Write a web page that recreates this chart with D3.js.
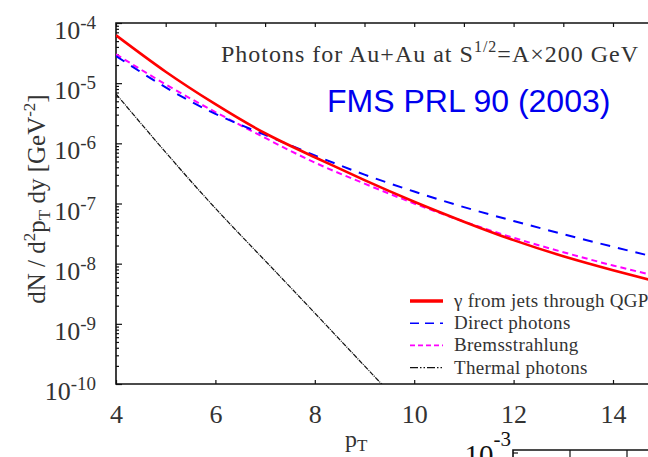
<!DOCTYPE html>
<html>
<head>
<meta charset="utf-8">
<script src="https://cdn.jsdelivr.net/npm/d3@7"></script>
<style>
  body { margin: 0; background: #fff; }
  svg { display: block; }
  text { font-family: "Liberation Serif", "Times New Roman", serif; fill: #333; }
</style>
</head>
<body>
<div id="chart"></div>
<script>
// Values
var pT = [4, 5, 6, 7, 8, 9, 10, 11, 12, 13, 14, 15];
var jetsQGP = [6.25e-5, 1.55e-5, 4.47e-6, 1.47e-6, 5.88e-7, 2.44e-7, 1.07e-7, 4.99e-8, 2.46e-8, 1.33e-8, 7.80e-9, 4.74e-9];
var directPhotons = [2.82e-5, 8.51e-6, 3.09e-6, 1.38e-6, 6.31e-7, 3.02e-7, 1.58e-7, 8.71e-8, 5.13e-8, 3.09e-8, 1.91e-8, 1.20e-8];
var bremsstrahlung = [3.02e-5, 9.55e-6, 3.31e-6, 1.23e-6, 4.79e-7, 2.14e-7, 1.00e-7, 5.01e-8, 2.69e-8, 1.55e-8, 9.33e-9, 5.89e-9];
var thermalPT = [4, 5, 6, 7, 8, 9, 9.6];
var thermalPhotons = [6.61e-6, 7.08e-7, 8.32e-8, 1.12e-8, 1.51e-9, 2.0e-10, 6.0e-11];

var decades = [-4, -5, -6, -7, -8, -9, -10];
var xTicksBottom = [4, 6, 8, 10, 12, 14];
var xTicksTop = [4, 5, 6, 7, 8, 9, 10, 11, 12, 13, 14, 15];
var legendLabels = ["\u03b3 from jets through QGP", "Direct photons", "Bremsstrahlung", "Thermal photons"];

var W = 648, H = 457;
var plot = { left: 116, top: 23, bottom: 384, right: 648 };

var svg = d3.select("#chart")
    .append("svg")
    .attr("width", W)
    .attr("height", H);

var x = d3.scaleLinear()
    .domain([4, 15])
    .range([plot.left, plot.left + 11 * 49.7]);

var y = d3.scaleLog()
    .domain([1e-10, 1e-4])
    .range([plot.bottom, plot.top]);

// text with super/subscripts: parts = [text, dy, size]
function richText(sel, parts) {
    var shift = 0;
    parts.forEach(function (p) {
        var t = sel.append("tspan").text(p[0]);
        var dy = p[1] - shift;
        if (dy !== 0) t.attr("dy", dy);
        if (p[2]) t.style("font-size", p[2] + "px");
        shift = p[1];
    });
}

svg.append("defs")
    .append("clipPath")
    .attr("id", "plot-clip")
    .append("rect")
    .attr("x", plot.left)
    .attr("y", plot.top)
    .attr("width", plot.right - plot.left)
    .attr("height", plot.bottom - plot.top);

// Ticks (inward)
svg.append("g")
    .attr("transform", "translate(" + plot.left + ",0)")
    .call(d3.axisLeft(y)
        .tickValues(decades.map(function (d) { return Math.pow(10, d); }))
        .tickSize(-6).tickSizeOuter(0).tickFormat(""))
    .call(function (g) { g.select(".domain").remove(); });

var minor = [];
decades.slice(0, -1).forEach(function (d) {
    for (var k = 2; k <= 9; k++) minor.push(k * Math.pow(10, d - 1));
});
svg.append("g")
    .attr("transform", "translate(" + plot.left + ",0)")
    .call(d3.axisLeft(y).tickValues(minor).tickSize(-3).tickSizeOuter(0).tickFormat(""))
    .call(function (g) { g.select(".domain").remove(); });

svg.append("g")
    .attr("transform", "translate(0," + plot.top + ")")
    .call(d3.axisTop(x).tickValues(xTicksTop).tickSize(-4).tickSizeOuter(0).tickFormat(""))
    .call(function (g) { g.select(".domain").remove(); });

svg.append("g")
    .attr("class", "x-axis")
    .attr("transform", "translate(0," + plot.bottom + ")")
    .call(d3.axisBottom(x).tickValues(xTicksBottom).tickSize(-4).tickSizeOuter(0).tickPadding(21))
    .call(function (g) {
        g.select(".domain").remove();
        g.selectAll("text")
            .style("font-family", "\"Liberation Serif\", serif")
            .style("font-size", "26px")
            .style("fill", "#333");
    });

svg.selectAll(".tick line").attr("stroke", "#111").attr("stroke-width", 1.2);

// Frame
svg.append("path")
    .attr("d", "M" + plot.right + "," + plot.top + "H" + plot.left + "V" + plot.bottom + "H" + plot.right)
    .attr("fill", "none")
    .attr("stroke", "#111")
    .attr("stroke-width", 1.6);

// Y tick labels
decades.forEach(function (d) {
    var t = svg.append("text")
        .attr("x", 96)
        .attr("y", y(Math.pow(10, d)) + 16)
        .attr("text-anchor", "end")
        .style("font-size", "26px");
    richText(t, [["10", 0], [String(d), -10, 19]]);
});

// Axis titles
var yl = svg.append("text")
    .attr("transform", "translate(45,199) rotate(-90)")
    .attr("text-anchor", "middle")
    .style("font-size", "25px");
richText(yl, [["dN / d", 0], ["2", -10, 17], ["p", 0], ["T", 5, 17], [" dy [GeV", 0], ["-2", -10, 17], ["]", 0]]);

var xl = svg.append("text")
    .attr("x", 345)
    .attr("y", 447)
    .style("font-size", "24px");
richText(xl, [["p", 0], ["T", 4, 17]]);

// Curves
var line = d3.line()
    .x(function (d) { return x(d[0]); })
    .y(function (d) { return y(d[1]); })
    .curve(d3.curveNatural);

var curves = svg.append("g").attr("clip-path", "url(#plot-clip)");

function zip(xs, ys) { return xs.map(function (v, i) { return [v, ys[i]]; }); }

var series = [
    { values: zip(thermalPT, thermalPhotons), color: "#111", width: 1.2, dash: "5,1,1,1" },
    { values: zip(pT, bremsstrahlung), color: "#ff00ff", width: 2, dash: "6,4" },
    { values: zip(pT, directPhotons), color: "#0000ff", width: 2, dash: "10,8" },
    { values: zip(pT, jetsQGP), color: "#ff0000", width: 2.6, dash: null }
];

series.forEach(function (s) {
    curves.append("path")
        .datum(s.values)
        .attr("d", line)
        .attr("fill", "none")
        .attr("stroke", s.color)
        .attr("stroke-width", s.width)
        .attr("stroke-dasharray", s.dash);
});

// Legend
var legendStyles = [
    { color: "#ff0000", width: 3.5, dash: null },
    { color: "#0000ff", width: 1.6, dash: "9,6" },
    { color: "#ff00ff", width: 1.6, dash: "5,3" },
    { color: "#111", width: 1.2, dash: "8,2,1.5,2,1.5,2" }
];
var legend = svg.append("g");
legendLabels.forEach(function (label, i) {
    var ly = 301 + i * 22.2;
    legend.append("line")
        .attr("x1", 410).attr("x2", 443)
        .attr("y1", ly).attr("y2", ly)
        .attr("stroke", legendStyles[i].color)
        .attr("stroke-width", legendStyles[i].width)
        .attr("stroke-dasharray", legendStyles[i].dash);
    legend.append("text")
        .attr("x", 454)
        .attr("y", ly + 6)
        .style("font-size", "19px")
        .style("letter-spacing", "0.3px")
        .text(label);
});

// Annotations
var title = svg.append("text")
    .attr("x", 221)
    .attr("y", 62)
    .style("font-size", "24px")
    .style("letter-spacing", "1px");
richText(title, [["Photons for Au+Au at S", 0], ["1/2", -10, 16], ["=A\u00d7200 GeV", 0]]);

svg.append("text")
    .attr("x", 327)
    .attr("y", 112)
    .style("font-family", "\"Liberation Sans\", Arial, sans-serif")
    .style("font-size", "32px")
    .style("fill", "#0000ee")
    .text("FMS PRL 90 (2003)");

// Fragment of the neighbouring panel at bottom right
var frag = svg.append("g");
frag.append("path")
    .attr("d", "M648,450H513V460")
    .attr("fill", "none")
    .attr("stroke", "#111")
    .attr("stroke-width", 1.6);
frag.selectAll(".ftick")
    .data([570, 627])
    .enter()
    .append("line")
    .attr("x1", function (d) { return d; }).attr("x2", function (d) { return d; })
    .attr("y1", 450).attr("y2", 457)
    .attr("stroke", "#111")
    .attr("stroke-width", 1.2);
frag.append("line")
    .attr("x1", 513).attr("x2", 518).attr("y1", 453).attr("y2", 453)
    .attr("stroke", "#111").attr("stroke-width", 1.2);
var ft = frag.append("text")
    .attr("x", 511)
    .attr("y", 465)
    .attr("text-anchor", "end")
    .style("font-size", "29px")
    .style("fill", "#111");
richText(ft, [["10", 0], ["-3", -19, 21]]);
</script>
</body>
</html>
